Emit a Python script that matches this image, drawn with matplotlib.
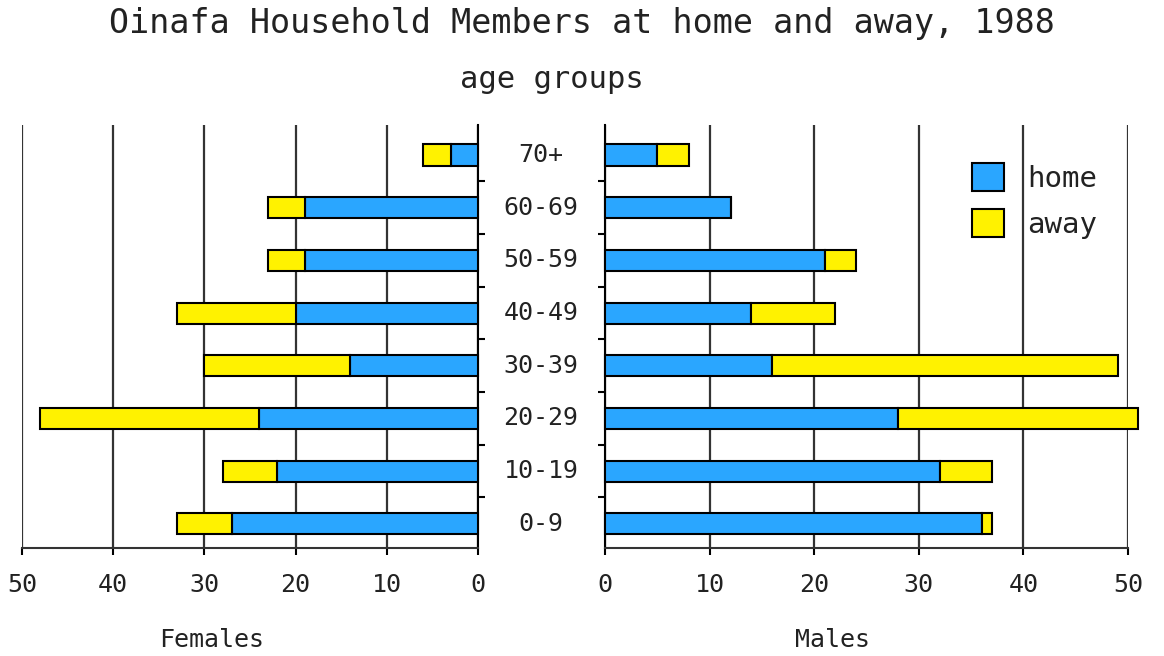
import matplotlib
matplotlib.use("Agg")
import matplotlib.pyplot as plt
import numpy as np

categories = ["0-9", "10-19", "20-29", "30-39", "40-49", "50-59", "60-69", "70+"]
female_home = [27, 22, 24, 14, 20, 19, 19, 3]
female_away = [6, 6, 24, 16, 13, 4, 4, 3]
male_home = [36, 32, 28, 16, 14, 21, 12, 5]
male_away = [1, 5, 23, 33, 8, 3, 0, 3]
xticks = [0, 10, 20, 30, 40, 50]

BLUE = "#2aa6ff"
YELLOW = "#fff200"
FONT = "DejaVu Sans Mono"
TXT = "#222222"

plt.rcParams['font.family'] = [FONT]

fig = plt.figure(figsize=(11.64, 6.56), dpi=100)
axL = fig.add_axes([22/1164, 1-548/656, 456/1164, 423/656])
axR = fig.add_axes([605/1164, 1-548/656, 523/1164, 423/656])

y = np.arange(len(categories))
h = 0.4

for ax, home, away in ((axL, female_home, female_away), (axR, male_home, male_away)):
    ax.barh(y, home, height=h, color=BLUE, edgecolor="black", linewidth=1.5,
            label="home", clip_on=False, zorder=3)
    ax.barh(y, away, left=home, height=h, color=YELLOW, edgecolor="black",
            linewidth=1.5, label="away", clip_on=False, zorder=3)
    ax.set_ylim(-0.46, 7.57)
    ax.set_xticks(xticks)
    ax.set_xticklabels([str(t) for t in xticks], fontsize=18, color=TXT)
    ax.tick_params(axis="x", length=5, width=1.5, pad=13, direction="out")
    ax.set_yticks([])
    ax.set_yticks(np.arange(0.5, 7.5, 1.0), minor=True)
    ax.tick_params(axis="y", which="minor", length=5, width=1.5)
    for t in xticks:
        ax.axvline(t, color="#333333", linewidth=1.6, zorder=1)
    ax.spines["top"].set_visible(False)
    ax.spines["bottom"].set_linewidth(1.5)
    ax.spines["bottom"].set_color("#333333")

axL.set_xlim(50, 0)
axL.spines["left"].set_visible(False)
axL.spines["right"].set_linewidth(1.5)
axL.yaxis.set_ticks_position("right")
axL.tick_params(axis="y", which="minor", right=True, left=False)

axR.set_xlim(0, 50)
axR.spines["right"].set_visible(False)
axR.spines["left"].set_linewidth(1.5)
axR.yaxis.set_ticks_position("left")

for i, c in enumerate(categories):
    fig.text(541/1164, axL.transData.transform((0, i))[1] / 656, c,
             ha="center", va="center", fontsize=18, color=TXT)

fig.text(0.5, 1-23/656, "Oinafa Household Members at home and away, 1988",
         ha="center", va="center", fontsize=24, color=TXT)
fig.text(552/1164, 1-80/656, "age groups", ha="center", va="center",
         fontsize=22, color=TXT)
fig.text(212/1164, 1-640/656, "Females", ha="center", va="center",
         fontsize=18, color=TXT)
fig.text(833/1164, 1-640/656, "Males", ha="center", va="center",
         fontsize=18, color=TXT)

leg = axR.legend(loc="upper left", bbox_to_anchor=((972-605)/523, 1-38/423),
                 frameon=False, fontsize=21, handlelength=1.1, handleheight=1.1,
                 handletextpad=0.8, labelspacing=0.55, borderaxespad=0,
                 borderpad=0)
for t in leg.get_texts():
    t.set_color(TXT)

fig.savefig("out.png", dpi=100)
